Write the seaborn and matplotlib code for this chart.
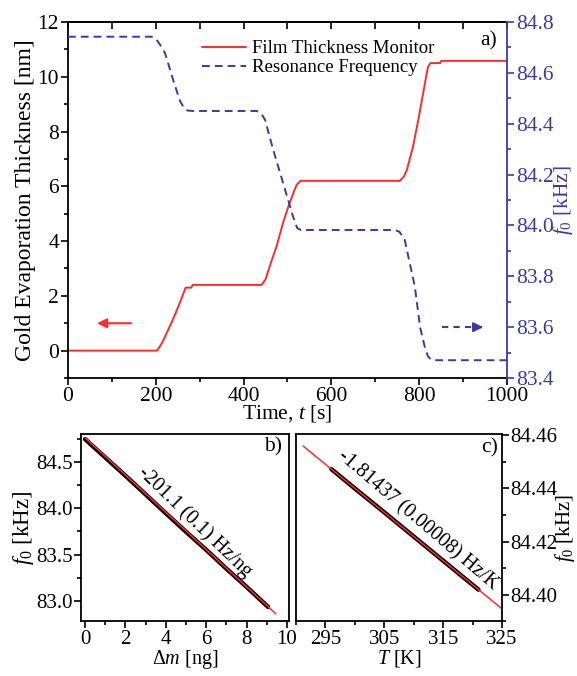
import matplotlib
matplotlib.use("Agg")
import matplotlib.pyplot as plt
from matplotlib.ticker import MultipleLocator, FormatStrFormatter
import seaborn as sns

# a) evaporation run
time_thick = [0, 203, 215, 239, 255, 268, 281, 284, 441, 450, 462, 475, 490, 505, 521, 530,
              756, 765, 772, 786, 798, 809, 820, 826, 848, 850, 1000]
thickness_nm = [0, 0, 0.3, 1.13, 1.75, 2.3, 2.3, 2.4, 2.4, 2.6, 3.2, 3.8, 4.67, 5.4, 6.06, 6.2,
                6.2, 6.35, 6.6, 7.45, 8.43, 9.4, 10.36, 10.5, 10.5, 10.58, 10.58]
time_freq = [0, 190, 200, 210, 221, 240, 255, 265, 272, 285, 430, 440, 449, 467, 490, 513, 522, 530,
             745, 755, 767, 790, 802, 813, 820, 828, 840, 1000]
freq_khz = [84.742, 84.742, 84.735, 84.71, 84.678, 84.57, 84.49, 84.46, 84.452, 84.45, 84.45, 84.44,
            84.415, 84.30, 84.167, 84.033, 83.99, 83.982, 83.982, 83.975, 83.943, 83.76, 83.60,
            83.52, 83.485, 83.472, 83.47, 83.47]

# b) frequency vs mass
mass_ng = [0, 1, 2, 3, 4, 5, 6, 7, 8, 9.06]
freq_mass = [84.745, 84.547, 84.35, 84.148, 83.945, 83.745, 83.55, 83.347, 83.15, 82.935]
fit_mass = [0, 9.45]
fit_freq_mass = [84.76, 82.86]

# c) frequency vs temperature
temp_K = [296, 300, 305, 310, 315, 321]
freq_temp = [84.4473, 84.4400, 84.4310, 84.4219, 84.4128, 84.4019]
fit_temp = [291.2, 325]
fit_freq_temp = [84.456, 84.3947]

RED = "#ff2b2b"
BLUE = "#3a3aa6"

sns.set_theme(style="ticks")
plt.rcParams["font.family"] = ["Liberation Serif", "DejaVu Serif"]
plt.rcParams["mathtext.fontset"] = "custom"
plt.rcParams["mathtext.rm"] = "Liberation Serif"
plt.rcParams["mathtext.it"] = "Liberation Serif:italic"
plt.rcParams["axes.linewidth"] = 1.3
for k in ["text.color", "axes.labelcolor", "xtick.color", "ytick.color", "axes.edgecolor"]:
    plt.rcParams[k] = "black"
FS = 15.5


def style_ticks(a, which_axis="both", size=FS, pad=1.5):
    a.tick_params(axis=which_axis, which="major", direction="out", length=5, width=1.2,
                  labelsize=size, pad=pad, color="black")
    a.tick_params(axis=which_axis, which="minor", direction="out", length=3, width=1.2)


fig = plt.figure(figsize=(5.77, 6.76), dpi=100)

# ---- a)
ax = fig.add_axes([0.1178, 0.4408, 0.7609, 0.5267])
sns.lineplot(x=time_thick, y=thickness_nm, ax=ax, color=RED, lw=1.4, sort=False,
             estimator=None, legend=False)
ax.set_xlim(0, 1000)
ax.set_ylim(-1, 12)
ax.xaxis.set_major_locator(MultipleLocator(200))
ax.xaxis.set_minor_locator(MultipleLocator(100))
ax.yaxis.set_major_locator(MultipleLocator(2))
ax.yaxis.set_minor_locator(MultipleLocator(1))
style_ticks(ax)
ax.tick_params(top=False, right=False, which="both")
ax.spines["right"].set_visible(False)
ax.set_xlabel("Time, $t$ [s]", fontsize=FS, labelpad=-2)
ax.set_ylabel("Gold Evaporation Thickness [nm]", fontsize=17, labelpad=1)

top = ax.secondary_xaxis("top")
top.set_xticks(range(0, 1001, 100))
top.tick_params(direction="in", length=5, width=1.2, labeltop=False)

ax2 = ax.twinx()
sns.lineplot(x=time_freq, y=freq_khz, ax=ax2, color=BLUE, lw=1.4, sort=False,
             estimator=None, legend=False, linestyle="--")
ax2.get_lines()[0].set_dashes((4, 2.6))
ax2.set_ylim(83.4, 84.8)
ax2.yaxis.set_major_locator(MultipleLocator(0.2))
ax2.yaxis.set_minor_locator(MultipleLocator(0.1))
ax2.yaxis.set_major_formatter(FormatStrFormatter("%.1f"))
style_ticks(ax2, "y")
ax2.tick_params(axis="y", which="both", colors=BLUE)
for s in ["left", "top", "bottom"]:
    ax2.spines[s].set_visible(False)
ax2.spines["right"].set_color(BLUE)
ax2.set_ylabel(r"$f_{\mathit{0}}$ [kHz]", fontsize=15.5, color=BLUE, labelpad=-2)

ax.legend([ax.get_lines()[0], ax2.get_lines()[0]],
          ["Film Thickness Monitor", "Resonance Frequency"],
          loc="upper left", bbox_to_anchor=(0.285, 0.975), frameon=False,
          fontsize=13.5, borderpad=0, handlelength=2.3, handletextpad=0.35,
          labelspacing=0.1)

ax.annotate("", xy=(60, 1), xytext=(150, 1),
            arrowprops=dict(arrowstyle="-|>", color=RED, lw=1.5, mutation_scale=14))
ax2.plot([852, 935], [83.6, 83.6], color=BLUE, lw=1.5, dashes=(3, 2.5))
ax2.annotate("", xy=(952, 83.6), xytext=(930, 83.6),
             arrowprops=dict(arrowstyle="-|>", color=BLUE, lw=1.5, mutation_scale=14))
ax.text(0.977, 0.975, "a)", transform=ax.transAxes, ha="right", va="top", fontsize=FS)

# ---- b)
axb = fig.add_axes([0.1404, 0.081, 0.3605, 0.277])
sns.lineplot(x=mass_ng, y=freq_mass, ax=axb, color="black", lw=3.2, sort=False,
             estimator=None, legend=False)
sns.lineplot(x=fit_mass, y=fit_freq_mass, ax=axb, color=RED, lw=1.1, sort=False,
             estimator=None, legend=False)
axb.set_xlim(-0.2, 10.1)
axb.set_ylim(82.78, 84.8)
axb.xaxis.set_major_locator(MultipleLocator(2))
axb.xaxis.set_minor_locator(MultipleLocator(1))
axb.yaxis.set_major_locator(MultipleLocator(0.5))
axb.yaxis.set_minor_locator(MultipleLocator(0.25))
axb.yaxis.set_major_formatter(FormatStrFormatter("%.1f"))
style_ticks(axb, size=15, pad=1)
axb.tick_params(top=False, right=False, which="both")
axb.set_xlabel(r"$\Delta m$ [ng]", fontsize=14.5, labelpad=-0.5)
axb.set_ylabel(r"$f_{\mathit{0}}$ [kHz]", fontsize=16.5, labelpad=0)
axb.text(5.45, 83.85, "-201.1 (0.1) Hz/ng", rotation=-44, rotation_mode="anchor",
         ha="center", va="center", fontsize=14.5)
axb.text(0.966, 0.985, "b)", transform=axb.transAxes, ha="right", va="top", fontsize=FS)

# ---- c)
axc = fig.add_axes([0.513, 0.081, 0.357, 0.277])
sns.lineplot(x=temp_K, y=freq_temp, ax=axc, color="black", lw=3.2, sort=False,
             estimator=None, legend=False)
sns.lineplot(x=fit_temp, y=fit_freq_temp, ax=axc, color=RED, lw=1.1, sort=False,
             estimator=None, legend=False)
axc.set_xlim(290, 325)
axc.set_ylim(84.39, 84.4605)
axc.set_xticks([295, 305, 315, 325])
axc.xaxis.set_minor_locator(MultipleLocator(5))
axc.yaxis.set_major_locator(MultipleLocator(0.02))
axc.yaxis.set_minor_locator(MultipleLocator(0.01))
axc.yaxis.set_major_formatter(FormatStrFormatter("%.2f"))
axc.yaxis.tick_right()
axc.yaxis.set_label_position("right")
style_ticks(axc, size=15, pad=1)
axc.tick_params(top=False, left=False, which="both")
axc.set_xlabel("$T$ [K]", fontsize=14.5, labelpad=-0.5)
axc.set_ylabel(r"$f_{\mathit{0}}$ [kHz]", fontsize=15, labelpad=-3)
axc.text(310.6, 84.428, "-1.81437 (0.00008) Hz/K", rotation=-40.5, rotation_mode="anchor",
         ha="center", va="center", fontsize=14.5)
axc.text(0.98, 0.98, "c)", transform=axc.transAxes, ha="right", va="top", fontsize=FS)

fig.savefig("out.png", dpi=100)
